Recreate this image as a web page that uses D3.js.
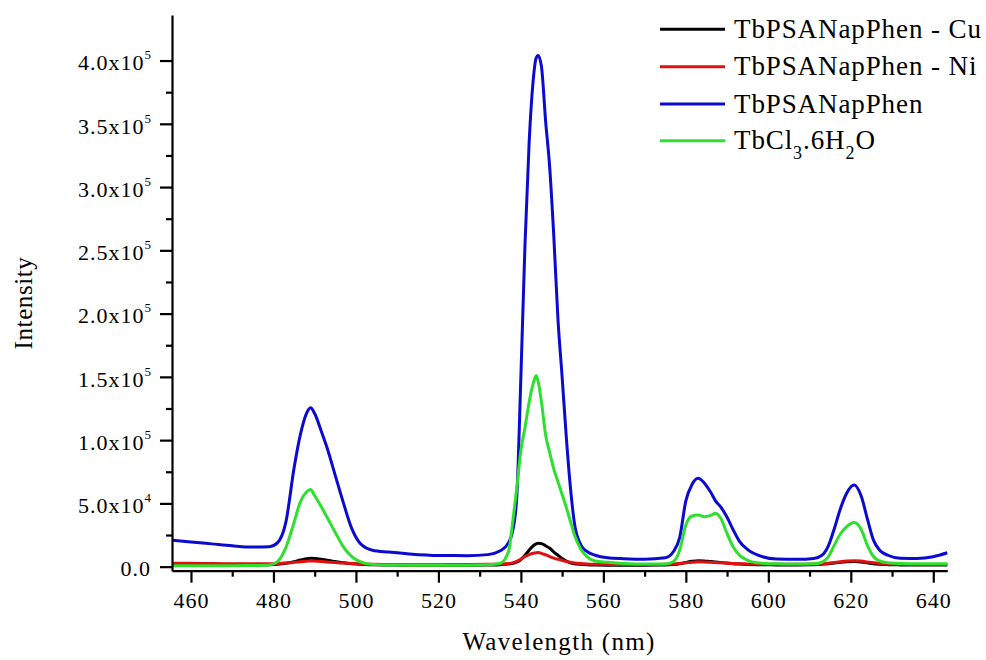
<!DOCTYPE html>
<html><head><meta charset="utf-8">
<script src="https://cdn.jsdelivr.net/npm/d3@7"></script>
<style>
html,body{margin:0;padding:0;background:#fff;}
svg text{font-family:"Liberation Serif","Times New Roman",serif;fill:#000;}
</style></head>
<body><svg id="chart" width="986" height="660"></svg>
<script>
// ---- data ----
const wavelength = [455.4,460,465,470,475,479,481,483,485,486.5,488,489,490,491.5,493,495,497,499,501,504,508,513,520,527,532,535,537,538,539,540,541,542,543,543.7,544.2,545,546,547,548,549,550,551,552,553,554.5,556,558,561,565,570,575,577,578.5,580,581.5,583,584.5,586,587.2,588.5,590,591.5,593,595,598,602,607,611,613,614.5,616,617.5,619,620.8,622.5,624,625.5,627,629,632,636,640,643.4];

const cuValues = [1500,1500,1400,1400,1400,1500,1900,2700,4000,5200,6200,6600,6500,5900,5000,4000,3000,2300,1800,1500,1300,1200,1200,1200,1300,1500,2000,2600,3500,5500,9000,13000,16500,18000,18500,18200,16500,14500,11500,9000,6500,4500,3000,2300,1800,1500,1300,1200,1200,1200,1300,1700,2300,3300,4200,4700,4500,4000,3700,3300,2800,2300,2000,1700,1500,1400,1400,1500,1800,2200,2800,3400,3800,4000,3700,3000,2300,1900,1600,1400,1300,1300,1300];

const niValues = [2700,2600,2400,2300,2200,2200,2400,2800,3400,3900,4300,4500,4400,4100,3700,3200,2800,2400,2100,1900,1700,1600,1600,1700,1800,2000,2500,3000,4200,6000,8000,9500,10600,11000,11100,10500,9300,8000,6800,5800,5000,4200,3500,2900,2400,2100,1900,1800,1700,1700,1800,2100,2500,3000,3500,3800,3700,3400,3200,3000,2700,2500,2300,2100,1900,1800,1800,2000,2300,2700,3300,3900,4400,4700,4400,3700,3000,2500,2100,1800,1700,1700,1700];

const phenValues = [21000,19500,18000,16500,15500,15800,19000,35000,78000,104000,121000,125500,121000,108000,94000,72000,50000,30000,18500,13000,11500,10000,8800,8700,9500,12500,19000,28000,55000,150000,255000,335000,385000,402000,404000,395000,352000,315000,260000,195000,150000,103000,63000,34000,17500,12000,9000,7000,6300,5900,7000,12000,23000,52000,65000,69800,66000,59000,52000,47000,39000,29000,20000,13500,8500,6000,5800,6500,9000,16000,30000,46000,58000,64500,56000,38000,21000,13000,9000,6600,6500,7900,11000];

const tbclValues = [800,800,800,800,900,1300,4000,15000,35000,51000,59000,61000,56000,48000,39000,27000,15500,8000,4000,1800,1300,1200,1200,1200,1500,2700,12000,35000,62000,92000,110000,130000,145000,151000,146000,130000,104000,90000,77000,67000,57000,47000,36000,25000,14000,8000,4500,3500,2500,2000,2000,4000,13000,33000,40000,40800,39500,40500,42200,38000,26000,15500,9000,5000,2800,2200,2100,2300,3500,7500,17000,26000,31600,34800,29500,17000,8000,4500,3000,2500,2300,2200,2200];

const seriesNames = ["TbPSANapPhen - Cu","TbPSANapPhen - Ni","TbPSANapPhen","TbCl3.6H2O"];
const seriesColors = ["#000000","#e01010","#0a0ad0","#2ee02e"];
const xTicks = [460,480,500,520,540,560,580,600,620,640];
const xMinorTicks = [470,490,510,530,550,570,590,610,630];
const yTicks = [0,50000,100000,150000,200000,250000,300000,350000,400000];
const yMinorTicks = [25000,75000,125000,175000,225000,275000,325000,375000];

// ---- layout ----
const svg = d3.select("#chart");
const x = d3.scaleLinear().domain([455.4, 643.4]).range([172, 947.3]);
const y = d3.scaleLinear().domain([-3200, 436000]).range([570.7, 15]);

const allValues = [cuValues, niValues, phenValues, tbclValues];
const line = d3.line().x(d => x(d[0])).y(d => y(d[1])).curve(d3.curveMonotoneX);

const plot = svg.append("g");
allValues.forEach((vals, i) => {
  plot.append("path")
    .datum(wavelength.map((w, k) => [w, vals[k]]))
    .attr("fill", "none")
    .attr("stroke", seriesColors[i])
    .attr("stroke-width", 3)
    .attr("stroke-linejoin", "round")
    .attr("d", line);
});

// x axis
const xAxis = svg.append("g").attr("transform", "translate(0,570.7)")
  .call(d3.axisBottom(x).tickValues(xTicks).tickSize(12).tickSizeOuter(0).tickPadding(10).tickFormat(d3.format("d")));
svg.append("g").attr("transform", "translate(0,570.7)")
  .call(d3.axisBottom(x).tickValues(xMinorTicks).tickSize(6).tickSizeOuter(0).tickFormat(""))
  .select(".domain").remove();

// y axis
const yAxis = svg.append("g").attr("transform", "translate(172,0)")
  .call(d3.axisLeft(y).tickValues(yTicks).tickSize(12).tickSizeOuter(0).tickPadding(8).tickFormat(""));
svg.append("g").attr("transform", "translate(172,0)")
  .call(d3.axisLeft(y).tickValues(yMinorTicks).tickSize(6).tickSizeOuter(0).tickFormat(""))
  .select(".domain").remove();

svg.selectAll(".domain").attr("stroke", "#000").attr("stroke-width", 2.2);
svg.selectAll(".tick line").attr("stroke", "#000").attr("stroke-width", 2.2);

xAxis.selectAll(".tick text")
  .style("font-size", "22px").style("letter-spacing", "1px")
  .style("font-family", "'Liberation Serif','Times New Roman',serif");

// y labels with superscript
yAxis.selectAll(".tick").each(function(d) {
  const g = d3.select(this);
  g.select("text").remove();
  const t = g.append("text").attr("x", -21).attr("y", 9.3)
    .attr("text-anchor", "end")
    .style("font-size", "22px").style("letter-spacing", "1px");
  if (d === 0) {
    t.text("0.0");
  } else {
    const e = Math.floor(Math.log10(d));
    const m = (d / Math.pow(10, e)).toFixed(1);
    t.append("tspan").text(m + "x10");
    t.append("tspan").attr("dy", -11).style("font-size", "13px").style("letter-spacing", "0px").text(e);
  }
});

// axis titles
svg.append("text").attr("x", 559).attr("y", 650).attr("text-anchor", "middle")
  .style("font-size", "25px").style("letter-spacing", "1.3px").text("Wavelength (nm)");
svg.append("text").attr("transform", "translate(32,303) rotate(-90)").attr("text-anchor", "middle")
  .style("font-size", "25px").style("letter-spacing", "0.6px").text("Intensity");

// legend
const legendY = [29.3, 66.7, 104, 140.7];
const legend = svg.append("g");
seriesNames.forEach((name, i) => {
  legend.append("line").attr("x1", 660).attr("x2", 725).attr("y1", legendY[i]).attr("y2", legendY[i])
    .attr("stroke", seriesColors[i]).attr("stroke-width", 3);
  const t = legend.append("text").attr("x", 734).attr("y", legendY[i] + 8.7)
    .style("font-size", "27px").style("letter-spacing", "0.9px");
  if (name === "TbCl3.6H2O") {
    t.append("tspan").text("TbCl");
    t.append("tspan").attr("dy", 10).style("font-size", "18px").text("3");
    t.append("tspan").attr("dy", -10).text(".6H");
    t.append("tspan").attr("dy", 10).style("font-size", "18px").text("2");
    t.append("tspan").attr("dy", -10).text("O");
  } else {
    t.text(name);
  }
});
</script></body></html>
